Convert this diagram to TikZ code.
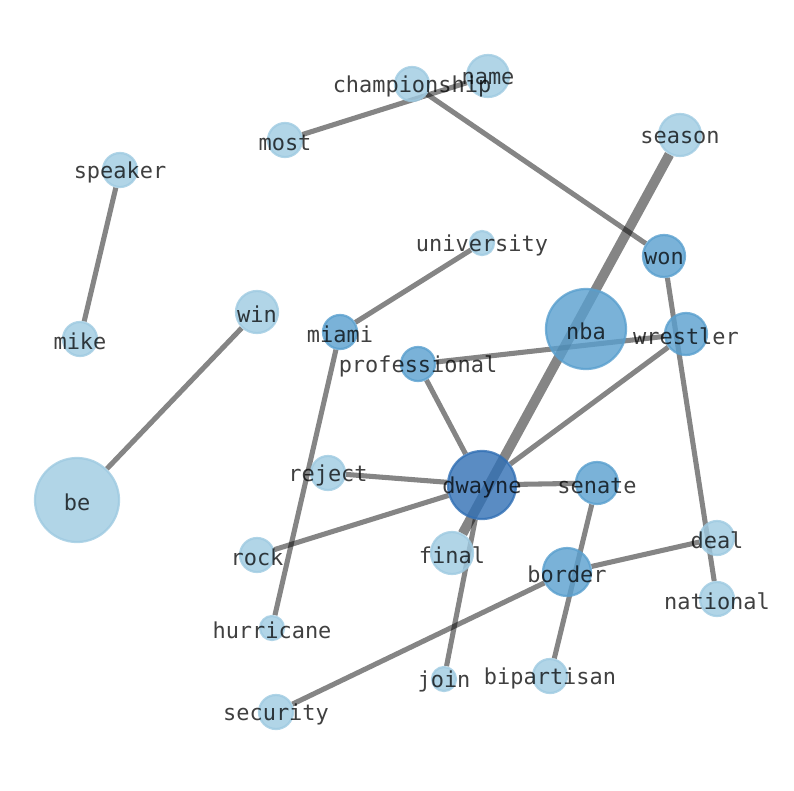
\documentclass[tikz,border=0pt]{standalone}
\usepackage{fontspec}
\newfontfamily\wordfont{DejaVu Sans Mono}
\usepackage{xcolor}
\usepackage{tikz}
\usetikzlibrary{backgrounds}
\definecolor{nodeLight}{HTML}{9ECAE1}
\definecolor{nodeMid}{HTML}{599FCE}
\definecolor{nodeDark}{HTML}{316FB4}

\begin{document}
\begin{tikzpicture}[x=0.025cm, y=-0.025cm,
  vtx/.style={circle, inner sep=0pt, opacity=0.8, line width=1.6pt},
  rad/.style={minimum size=#1*0.05cm},
  lightv/.style={vtx, fill=nodeLight, draw=nodeLight, rad=#1},
  midv/.style={vtx, fill=nodeMid, draw=nodeMid, rad=#1},
  darkv/.style={vtx, fill=nodeDark, draw=nodeDark, rad=#1},
  word/.style={font=\wordfont\fontsize{15.6}{18}\selectfont, text=black, text opacity=0.75, inner sep=0pt, yshift=-0.065cm},
  link/.style={draw=black, draw opacity=0.48, line width=3.6pt},
  heavy/.style={link, line width=7pt}]
\useasboundingbox (0,0) rectangle (794,790);
% word nodes
\node[lightv=17] (championship) at (412,84) {};
\node[lightv=21] (name) at (488,76) {};
\node[lightv=17] (most) at (285,140) {};
\node[lightv=21] (season) at (680,135) {};
\node[lightv=17] (speaker) at (120,170) {};
\node[lightv=12] (university) at (482,243) {};
\node[midv=21] (won) at (664,256) {};
\node[lightv=21] (win) at (257,312) {};
\node[midv=40] (nba) at (586,329) {};
\node[midv=21] (wrestler) at (686,334) {};
\node[midv=17] (miami) at (340,332) {};
\node[lightv=17] (mike) at (80,339) {};
\node[midv=17] (professional) at (418,364) {};
\node[lightv=42] (be) at (77,500) {};
\node[lightv=17] (reject) at (328,473) {};
\node[darkv=34] (dwayne) at (482,485) {};
\node[midv=21] (senate) at (597,483) {};
\node[lightv=21] (final) at (452,553) {};
\node[lightv=17] (rock) at (257,555) {};
\node[lightv=17] (deal) at (717,538) {};
\node[midv=24] (border) at (567,572) {};
\node[lightv=17] (national) at (717,599) {};
\node[lightv=12] (hurricane) at (272,628) {};
\node[lightv=12] (join) at (444,679) {};
\node[lightv=17] (bipartisan) at (550,676) {};
\node[lightv=17] (security) at (276,712) {};
% co-occurrence links
\begin{scope}[on background layer]
\draw[link] (most) -- (name);
\draw[link] (championship) -- (won);
\draw[link] (speaker) -- (mike);
\draw[link] (win) -- (be);
\draw[link] (university) -- (miami);
\draw[link] (miami) -- (hurricane);
\draw[link] (professional) -- (wrestler);
\draw[link] (professional) -- (dwayne);
\draw[link] (wrestler) -- (dwayne);
\draw[link] (won) -- (national);
\draw[heavy] (season) -- (final);
\draw[link] (reject) -- (dwayne);
\draw[link] (dwayne) -- (senate);
\draw[link] (dwayne) -- (rock);
\draw[link] (dwayne) -- (join);
\draw[link] (senate) -- (bipartisan);
\draw[link] (border) -- (deal);
\draw[link] (border) -- (security);
\end{scope}
% labels
\foreach \w in {championship,name,most,season,speaker,university,won,win,nba,wrestler,miami,mike,professional,be,reject,dwayne,senate,final,rock,deal,border,national,hurricane,join,bipartisan,security}
  \node[word] (t-\w) at (\w) {\w};
\end{tikzpicture}
\end{document}
